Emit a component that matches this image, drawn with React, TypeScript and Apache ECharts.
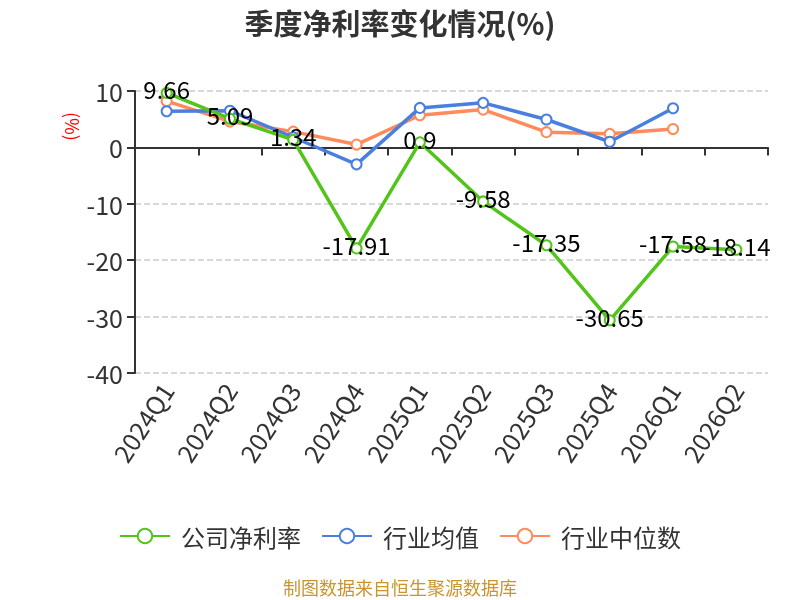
import React, { useEffect, useRef } from "react";
import * as echarts from "echarts";

const categories = ["2024Q1", "2024Q2", "2024Q3", "2024Q4", "2025Q1", "2025Q2", "2025Q3", "2025Q4", "2026Q1", "2026Q2"];
const companyMargin = [9.66, 5.09, 1.34, -17.91, 0.9, -9.58, -17.35, -30.65, -17.58, -18.14];
const industryAvg = [6.4, 6.5, 1.8, -3.0, 7.0, 7.9, 4.95, 1.0, 6.95, null];
const industryMedian = [8.2, 4.6, 2.8, 0.5, 5.7, 6.7, 2.7, 2.4, 3.25, null];
const seriesNames = ["公司净利率", "行业均值", "行业中位数"];
const colors = ["#52c41a", "#4a7fe0", "#ff8a5b"];

const FONT = "'Noto Sans CJK SC', 'Noto Sans', sans-serif";

export default function App() {
  const ref = useRef<HTMLDivElement>(null);
  useEffect(() => {
    if (!ref.current) return;
    const chart = echarts.init(ref.current, null, { renderer: "svg" });
    const mk = (i: number, data: (number | null)[], label: boolean) => ({
      name: seriesNames[i],
      type: "line",
      xAxisIndex: 0,
      data,
      symbol: "emptyCircle",
      symbolSize: 10,
      lineStyle: { width: 3.5, color: colors[i] },
      itemStyle: { color: colors[i], borderWidth: 2 },
      label: label
        ? { show: true, position: "inside", offset: [0, -4], color: "#000", fontSize: 24, fontFamily: FONT }
        : { show: false },
      z: 3 - i,
    });
    chart.setOption({
      animation: false,
      textStyle: { fontFamily: FONT },
      title: {
        text: "季度净利率变化情况(%)",
        left: "center",
        top: 2,
        textStyle: { fontSize: 29, fontWeight: "bold", color: "#333", fontFamily: FONT },
      },
      grid: { left: 135, right: 32, top: 91, bottom: 227, containLabel: false },
      legend: {
        data: seriesNames,
        bottom: 47,
        left: "center",
        itemWidth: 50,
        itemHeight: 18,
        itemGap: 20,
        textStyle: { fontSize: 24, color: "#333", fontFamily: FONT, padding: [0, 0, 0, 6] },
      },
      xAxis: [
        {
          type: "category",
          data: categories,
          boundaryGap: true,
          axisLine: { show: false, onZero: false },
          axisTick: { show: false },
          axisLabel: { rotate: 57, fontSize: 25, color: "#333", margin: 12, fontFamily: FONT },
        },
        {
          type: "category",
          data: categories,
          position: "bottom",
          boundaryGap: true,
          axisLine: { show: true, onZero: true, lineStyle: { color: "#333", width: 2 } },
          axisTick: { show: true, length: 8, lineStyle: { color: "#333", width: 2 } },
          axisLabel: { show: false },
          splitLine: { show: false },
        },
      ],
      yAxis: {
        type: "value",
        min: -40,
        max: 10,
        interval: 10,
        axisLine: { show: true, lineStyle: { color: "#333", width: 2 } },
        axisTick: { show: true, length: 8, lineStyle: { color: "#333", width: 2 } },
        axisLabel: { fontSize: 25, color: "#333", margin: 12, fontFamily: FONT },
        splitLine: { show: true, lineStyle: { type: "dashed", color: "#ccc", width: 1.5 } },
      },
      graphic: [
        {
          type: "text",
          x: 64,
          y: 112,
          rotation: -Math.PI / 2,
          style: {
            text: "(%)",
            fill: "#ff0000",
            fontSize: 18,
            fontFamily: FONT,
            align: "left",
            verticalAlign: "bottom",
          },
        },
        {
          type: "text",
          x: 400,
          y: 578,
          style: {
            text: "制图数据来自恒生聚源数据库",
            fill: "#c8962a",
            fontSize: 18,
            fontFamily: FONT,
            align: "center",
            verticalAlign: "top",
          },
        },
      ],
      series: [mk(0, companyMargin, true), mk(1, industryAvg, false), mk(2, industryMedian, false)],
    });
    return () => chart.dispose();
  }, []);
  return <div ref={ref} style={{ position: "fixed", left: 0, top: 0, width: 800, height: 600 }} />;
}
